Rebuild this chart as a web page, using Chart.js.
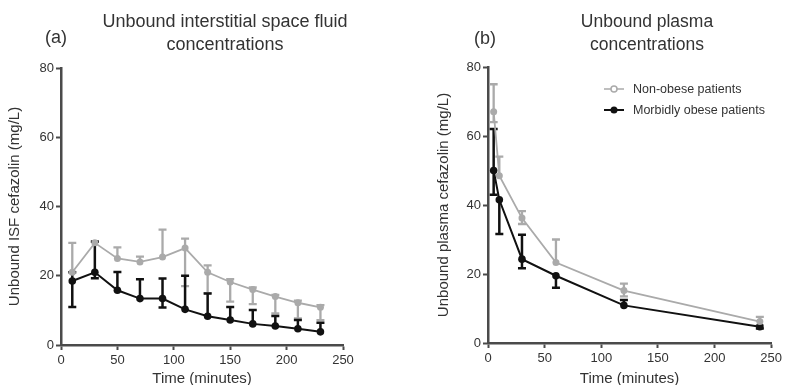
<!DOCTYPE html>
<html>
<head>
<meta charset="utf-8">
<script src="https://cdn.jsdelivr.net/npm/chart.js@4"></script>
<style>
  body { margin: 0; background: #fff; font-family: "Liberation Sans", Arial, sans-serif; color: #333; }
  #page { position: relative; width: 785px; height: 385px; overflow: hidden; }
  .panel { position: absolute; top: 0; height: 385px; }
  .title { position: absolute; font-size: 18px; line-height: 23px; text-align: center; color: #333; }
  .tag { position: absolute; font-size: 18px; color: #333; }
  .legend { position: absolute; left: 604px; font-size: 12.5px; color: #333; }
  .legend div { height: 21px; display: flex; align-items: center; }
  .legend svg { margin-right: 9px; }
</style>
</head>
<body>
<div id="page">
  <div class="panel" style="left:0;width:392px"><canvas id="isfChart" width="392" height="385"></canvas></div>
  <div class="panel" style="left:392px;width:393px"><canvas id="plasmaChart" width="393" height="385"></canvas></div>

  <div class="tag" style="left:45px;top:27px">(a)</div>
  <div class="title" style="left:90px;width:270px;top:10px">Unbound interstitial space fluid<br>concentrations</div>

  <div class="tag" style="left:474px;top:28px">(b)</div>
  <div class="title" style="left:552px;width:190px;top:10px;font-size:17.5px">Unbound plasma<br>concentrations</div>

  <div class="legend" style="top:78px">
    <div><svg width="20" height="10"><line x1="0" y1="5" x2="20" y2="5" stroke="#aaa" stroke-width="1.5"/><circle cx="10" cy="5" r="3" fill="#fff" stroke="#aaa" stroke-width="1.5"/></svg>Non-obese patients</div>
    <div><svg width="20" height="10"><line x1="0" y1="5" x2="20" y2="5" stroke="#111" stroke-width="2"/><circle cx="10" cy="5" r="3.5" fill="#111"/></svg>Morbidly obese patients</div>
  </div>
</div>

<script>
// Axis ticks (both panels)
const xTicks = [0, 50, 100, 150, 200, 250];
const yTicks = [0, 20, 40, 60, 80];

// (a) Unbound ISF concentrations
const isfTimes = [10, 30, 50, 70, 90, 110, 130, 150, 170, 190, 210, 230];
const isfNonObese = [21, 29.5, 25, 24, 25.4, 28, 21, 18.2, 16, 14, 12.2, 10.9];
const isfNonObeseHi = [29.5, 30, 28.2, 25.5, 33.3, 30.7, 23, 19, 16.6, 14.5, 12.8, 11.5];
const isfNonObeseLo = [21, 29.5, 25, 24, 25.4, 17, 15, 12.5, 11.8, 9.1, 7.7, 7.2];
const isfObese = [18.5, 21, 15.8, 13.4, 13.4, 10.3, 8.3, 7.2, 6.1, 5.5, 4.7, 3.8];
const isfObeseHi = [21, 29.8, 21.1, 19, 19.2, 20, 14.9, 11, 10.1, 8.4, 7.2, 6.4];
const isfObeseLo = [11, 19.3, 15.8, 13.4, 10.8, 10.3, 8.3, 7.2, 6.1, 5.5, 4.7, 3.8];

// (b) Unbound plasma concentrations
const plasmaTimes = [5, 10, 30, 60, 120, 240];
const plasmaNonObese = [67, 48.5, 36.2, 23.3, 15.2, 6.2];
const plasmaNonObeseHi = [75, 54, 38.2, 30, 17.2, 7.6];
const plasmaNonObeseLo = [64, 48.5, 34.5, 23.3, 13.5, 5.2];
const plasmaObese = [50, 41.5, 24.3, 19.5, 10.9, 4.7];
const plasmaObeseHi = [62, 41.5, 31.4, 19.5, 12.5, 4.7];
const plasmaObeseLo = [43, 31.6, 21.7, 16, 10.9, 4.2];

const GREY = '#aaaaaa';
const BLACK = '#111111';
const AXIS = '#4a4a4a';

function toPoints(xs, ys) {
    return xs.map((x, i) => ({ x: x, y: ys[i] }));
}

/**
 * Draws vertical error bars with caps through the chart scales
 */
const errorBars = {
    id: 'errorBars',
    beforeDatasetsDraw(chart) {
        const ctx = chart.ctx;
        const xs = chart.scales.x;
        const ys = chart.scales.y;
        chart.data.datasets.forEach(ds => {
            ctx.save();
            ctx.strokeStyle = ds.borderColor;
            ctx.lineWidth = ds.barWidth;
            ds.data.forEach((p, i) => {
                const px = xs.getPixelForValue(p.x);
                const py = ys.getPixelForValue(p.y);
                [ds.errHi[i], ds.errLo[i]].forEach(v => {
                    if (v === p.y) return;
                    const ey = ys.getPixelForValue(v);
                    ctx.beginPath();
                    ctx.moveTo(px, py);
                    ctx.lineTo(px, ey);
                    ctx.moveTo(px - 4, ey);
                    ctx.lineTo(px + 4, ey);
                    ctx.stroke();
                });
            });
            ctx.restore();
        });
    }
};

function makeChart(id, datasets, yTitle, pad, yWidth, xHeight) {
    const font = { family: '"Liberation Sans", Arial, sans-serif', size: 13 };
    return new Chart(document.getElementById(id), {
        type: 'line',
        data: { datasets: datasets },
        options: {
            responsive: false,
            animation: false,
            layout: { padding: pad },
            plugins: { legend: { display: false }, tooltip: { enabled: false } },
            scales: {
                x: {
                    type: 'linear', min: 0, max: 250,
                    afterBuildTicks: s => { s.ticks = xTicks.map(v => ({ value: v })); },
                    afterFit: s => { s.height = xHeight; },
                    grid: { drawOnChartArea: false, tickLength: 5, tickColor: AXIS, tickWidth: 2 },
                    border: { color: AXIS, width: 2.5 },
                    ticks: { color: '#333', font: font, padding: 3, maxRotation: 0 },
                    title: { display: true, text: 'Time (minutes)', color: '#333',
                             font: { family: font.family, size: 15 }, padding: { top: 0, bottom: -3 } }
                },
                y: {
                    min: 0, max: 80,
                    afterBuildTicks: s => { s.ticks = yTicks.map(v => ({ value: v })); },
                    afterFit: s => { s.width = yWidth; },
                    grid: { drawOnChartArea: false, tickLength: 5, tickColor: AXIS, tickWidth: 2 },
                    border: { color: AXIS, width: 2.5 },
                    ticks: { color: '#333', font: font, padding: 2 },
                    title: { display: true, text: yTitle, color: '#333',
                             font: { family: font.family, size: 15 }, padding: { top: 3, bottom: 0 } }
                }
            }
        },
        plugins: [errorBars]
    });
}

function series(xs, ys, hi, lo, color, lw, r) {
    return {
        data: toPoints(xs, ys),
        errHi: hi, errLo: lo,
        borderColor: color, backgroundColor: color,
        borderWidth: lw, barWidth: lw + 0.5,
        pointRadius: r, pointBorderWidth: 0,
        tension: 0
    };
}

makeChart('isfChart', [
    series(isfTimes, isfNonObese, isfNonObeseHi, isfNonObeseLo, GREY, 1.8, 3.5),
    series(isfTimes, isfObese, isfObeseHi, isfObeseLo, BLACK, 2, 3.8)
], 'Unbound ISF cefazolin (mg/L)', { top: 68, right: 49, bottom: 0, left: 3 }, 58, 40);

makeChart('plasmaChart', [
    series(plasmaTimes, plasmaNonObese, plasmaNonObeseHi, plasmaNonObeseLo, GREY, 1.8, 3.5),
    series(plasmaTimes, plasmaObese, plasmaObeseHi, plasmaObeseLo, BLACK, 2, 3.8)
], 'Unbound plasma cefazolin (mg/L)', { top: 67, right: 13, bottom: 0, left: 40 }, 56, 42);
</script>
</body>
</html>
